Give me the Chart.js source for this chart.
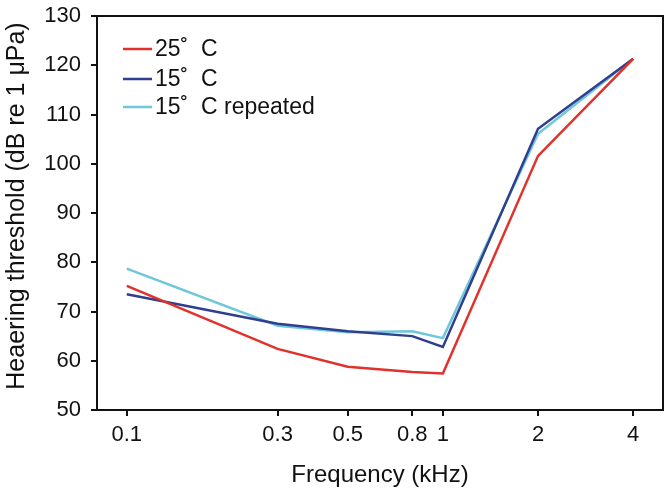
<!DOCTYPE html>
<html>
<head>
<meta charset="utf-8">
<script src="https://cdn.jsdelivr.net/npm/chart.js@4/dist/chart.umd.min.js"></script>
<style>
  html, body { margin: 0; padding: 0; background: #fff; }
  canvas { display: block; }
</style>
</head>
<body>
<canvas id="c" width="671" height="494"></canvas>
<script>
// Frequenzen (kHz) und Schwellen (dB re 1 µPa)
const frequencies = [0.1, 0.3, 0.5, 0.8, 1, 2, 4];
const temp25 = [75.2, 62.4, 58.8, 57.7, 57.4, 101.6, 121.3];
const temp15 = [73.5, 67.5, 66.0, 65.0, 62.8, 107.1, 121.3];
const temp15rep = [78.7, 67.1, 65.8, 66.0, 64.6, 106.1, 121.3];
const xTicks = [0.1, 0.3, 0.5, 0.8, 1, 2, 4];
const yTicks = [50, 60, 70, 80, 90, 100, 110, 120, 130];
const yTitle = "Heaering threshold (dB re 1 μPa)";

const FONT = "'Liberation Sans', Arial, sans-serif";
Chart.defaults.font.family = FONT;
Chart.defaults.color = "#111";

function pts(arr) {
    return frequencies.map((f, i) => ({ x: f, y: arr[i] }));
}

// Rahmen, Y-Titel und Legende
const framePlugin = {
    id: "frame",
    afterDraw(chart) {
        const ctx = chart.ctx;
        const a = chart.chartArea;
        ctx.save();
        ctx.strokeStyle = "#111";
        ctx.lineWidth = 2;
        ctx.strokeRect(a.left, a.top, a.right - a.left, a.bottom - a.top);

        // Y-Achsentitel
        ctx.save();
        ctx.translate(17, 206);
        ctx.rotate(-Math.PI / 2);
        ctx.font = "25px " + FONT;
        ctx.fillStyle = "#111";
        ctx.textAlign = "center";
        ctx.textBaseline = "middle";
        ctx.fillText(yTitle, 0, 0);
        ctx.restore();

        // Legende
        const rows = [49, 79, 107];
        ctx.font = "23px " + FONT;
        ctx.textBaseline = "middle";
        chart.data.datasets.forEach((ds, i) => {
            const y = rows[i];
            ctx.strokeStyle = ds.borderColor;
            ctx.lineWidth = 2.5;
            ctx.beginPath();
            ctx.moveTo(123, y);
            ctx.lineTo(152, y);
            ctx.stroke();
            ctx.fillStyle = "#111";
            ctx.fillText(ds.label, 155, y + 1);
        });
        ctx.restore();
    }
};

new Chart(document.getElementById("c").getContext("2d"), {
    type: "line",
    data: {
        datasets: [
            { label: "25˚  C", data: pts(temp25), borderColor: "#e0312b" },
            { label: "15˚  C", data: pts(temp15), borderColor: "#2f3f8f" },
            { label: "15˚  C repeated", data: pts(temp15rep), borderColor: "#70c7d9" }
        ].map(d => Object.assign(d, { borderWidth: 2.5, pointRadius: 0, fill: false, tension: 0 }))
    },
    options: {
        responsive: false,
        animation: false,
        layout: { padding: { top: 16, right: 8, left: 0, bottom: 0 } },
        plugins: { legend: { display: false }, tooltip: { enabled: false } },
        scales: {
            x: {
                type: "logarithmic",
                min: 0.0805,
                max: 4.97,
                afterBuildTicks: scale => { scale.ticks = xTicks.map(v => ({ value: v })); },
                afterFit: scale => {
                    scale.height = 84;
                    scale.paddingLeft = 0;
                    scale.paddingRight = 0;
                },
                ticks: {
                    callback: v => String(v),
                    font: { size: 22 },
                    color: "#111",
                    padding: 6,
                    maxRotation: 0,
                    autoSkip: false
                },
                grid: { drawOnChartArea: false, tickLength: 6, color: "#111", lineWidth: 2 },
                border: { color: "#111", width: 2 },
                title: { display: true, text: "Frequency (kHz)", font: { size: 24 }, color: "#111", padding: { top: 8 } }
            },
            y: {
                min: 50,
                max: 130,
                afterBuildTicks: scale => { scale.ticks = yTicks.map(v => ({ value: v })); },
                afterFit: scale => {
                    scale.width = 97;
                    scale.paddingTop = 0;
                    scale.paddingBottom = 0;
                },
                ticks: { font: { size: 22 }, color: "#111", padding: 10 },
                grid: { drawOnChartArea: false, tickLength: 6, color: "#111", lineWidth: 2 },
                border: { color: "#111", width: 2 }
            }
        }
    },
    plugins: [framePlugin]
});
</script>
</body>
</html>
